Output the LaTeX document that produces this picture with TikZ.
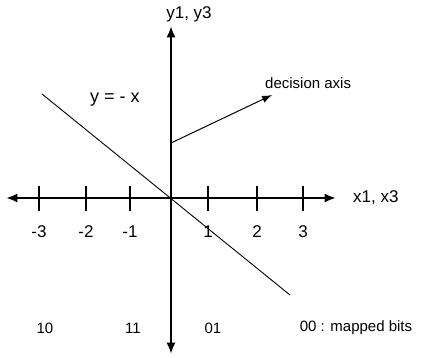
\documentclass[tikz,border=0pt]{standalone}
\usepackage{fontspec}
\setmainfont{Liberation Sans}
\usetikzlibrary{arrows.meta, positioning}

\begin{document}
\begin{tikzpicture}[
  x=1pt, y=-1pt,
  axis/.style={line width=2.4pt, -{Latex[length=4mm, width=3.2mm]}},
  thinarr/.style={line width=1pt, -{Latex[length=3.5mm, width=2.6mm]}},
  tick/.style={line width=1.2pt},
  lbl/.style={font=\fontsize{17}{19}\selectfont, inner sep=1pt},
  bits/.style={font=\fontsize{15}{17}\selectfont, inner sep=1pt},
  small/.style={font=\fontsize{15}{17}\selectfont, inner sep=1pt}
]
\useasboundingbox (0,0) rectangle (440,357);
% axes
\coordinate (o) at (171,198);
\coordinate (xl) at (6,198);
\coordinate (xr) at (336,198);
\coordinate (yt) at (171,26);
\coordinate (yb) at (171,354);
\draw[axis] (o) -- (xr);
\draw[axis] (o) -- (xl);
\draw[axis] (o) -- (yt);
\draw[axis] (o) -- (yb);
\node[lbl, anchor=west] (xlab) at (352,198) {x1, x3};
\node[lbl] (ylab) at (189,14) {y1, y3};
% ticks and tick labels
\foreach \px/\t in {39/-3, 86/-2, 130/-1, 208/1, 257/2, 303/3} {
  \draw[tick] (\px,186) -- (\px,211);
  \node[lbl] at (\px,232) {\t};
}
% line y = -x
\coordinate (la) at (42,94);
\coordinate (lb) at (290,295);
\draw[line width=0.9pt] (la) -- (lb);
\node[font=\fontsize{18}{20}\selectfont] (eq) at (115,100) {y = - x};
% decision axis
\coordinate (ds) at (171,143);
\node[small, anchor=south west] (dec) at (264,90) {decision axis};
\draw[thinarr] (ds) -- (272,95);
% mapped bits
\node[bits] (b10) at (45,328) {10};
\node[bits] (b11) at (133,328) {11};
\node[bits] (b01) at (213,328) {01};
\node[bits] (b00) at (356,328) {00 : mapped bits};
\end{tikzpicture}
\end{document}
